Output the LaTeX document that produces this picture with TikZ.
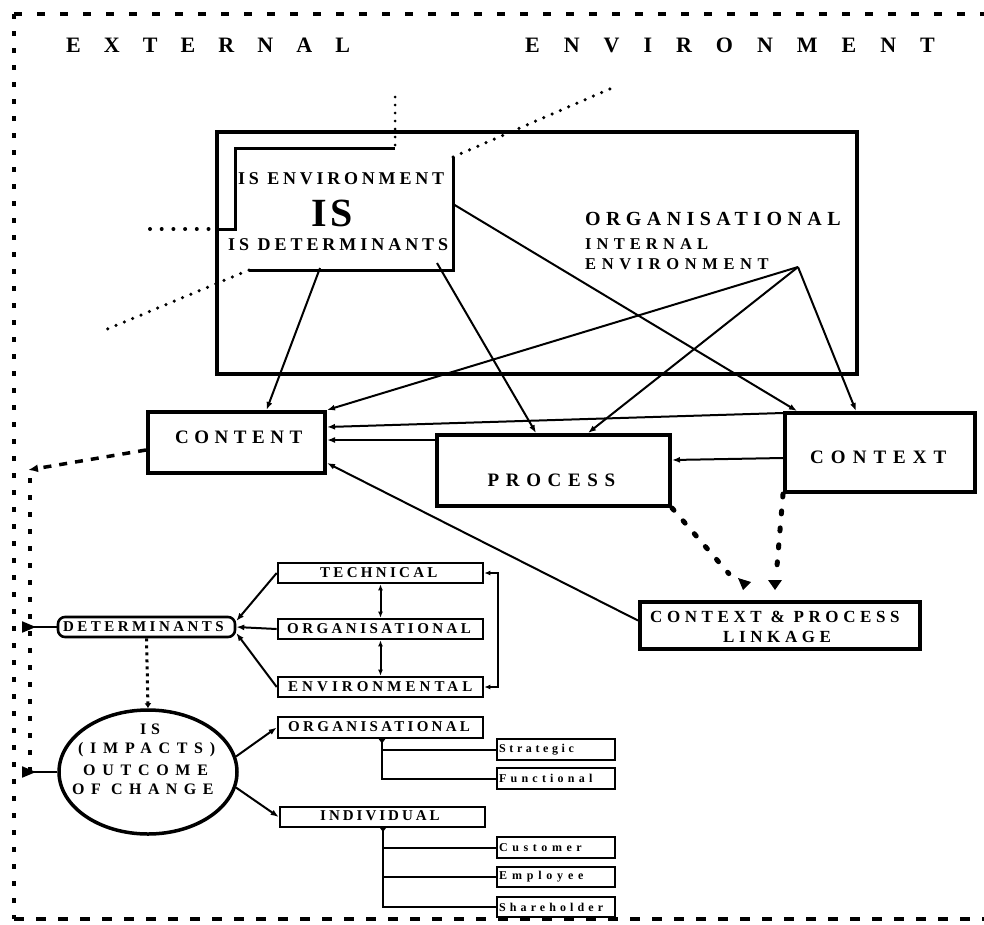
\documentclass[tikz,border=0pt]{standalone}
\usepackage{fontspec}
\setmainfont{Liberation Serif}
\newfontface\dfont{Liberation Serif Bold}
\usetikzlibrary{arrows.meta,shapes.geometric,calc}
% size, letter spacing, text (bold face)
\newcommand\lsp[3]{\fontsize{#1}{#1}\dfont\addfontfeatures{LetterSpace=#2}#3}
\begin{document}
\begin{tikzpicture}[x=1pt,y=-1pt,
  txt/.style={inner sep=0pt},
  bigbox/.style={draw, line width=4pt, inner sep=0pt},
  smallbox/.style={draw, line width=2.6pt, inner sep=0pt, minimum height=20pt},
  conn/.style={line width=2pt},
  arr/.style={conn, -{Latex[length=8pt,width=6pt]}},
  darr/.style={conn, {Latex[length=6pt,width=5pt]}-{Latex[length=6pt,width=5pt]}},
  fine/.style={line width=3.5pt, line cap=round, dash pattern=on 0pt off 9pt},
  bigdots/.style={line width=5pt, line cap=round, dash pattern=on 3pt off 14pt},
  tail/.style={conn, {Triangle[reversed,length=14pt,width=11pt]}-},
  branch/.style={conn, {Triangle[reversed,length=5pt,width=7pt]}-},
]
\useasboundingbox (0,0) rectangle (984,924);

% outer dashed frame of the external environment
\begin{scope}
  \clip (0,0) rectangle (984,924);
  \draw[line width=4pt, dash pattern=on 8pt off 15pt] (14,14) -- (995,14);
  \draw[line width=4pt, dash pattern=on 5pt off 12pt] (14,14) -- (14,919);
  \draw[line width=4pt, dash pattern=on 10pt off 12pt] (14,919) -- (995,919);
\end{scope}
\node[txt, anchor=west] (extA) at (66,45) {\lsp{22}{105}{EXTERNAL}};
\node[txt, anchor=west] (extB) at (525,45) {\lsp{22}{109}{ENVIRONMENT}};

% organisational box with the IS block inside
\node[bigbox, minimum width=640pt, minimum height=242pt] (isbox) at (537,253) {};
\draw[line width=3pt] (217,229) -- (235,229) -- (235,148) -- (395,148);
\draw[line width=3pt] (453,157) -- (453,270) -- (249,270);
\draw[fine, line width=3pt, dash pattern=on 0pt off 8pt] (395,97) -- (395,148);
\draw[fine] (453,157) -- (612,88);
\draw[fine, line width=4pt, dash pattern=on 0pt off 11.7pt] (150,229) -- (217,229);
\draw[fine] (249,270) -- (105,330);
\node[txt, anchor=west] (isenv) at (238,179) {\lsp{18}{21}{IS ENVIRONMENT}};
\node[txt] (isbig) at (332,213) {\lsp{40}{8}{IS}};
\node[txt, anchor=west] (isdet) at (228,245) {\lsp{18}{22}{IS DETERMINANTS}};
\node[txt, anchor=west] (orgA) at (585,219) {\lsp{20}{27}{ORGANISATIONAL}};
\node[txt, anchor=west] (orgB) at (585,244) {\lsp{16.5}{31}{INTERNAL}};
\node[txt, anchor=west] (orgC) at (585,264) {\lsp{16.5}{34}{ENVIRONMENT}};
\coordinate (detL) at (320,268);
\coordinate (detR) at (437,263);
\coordinate (envR) at (453,204);
\coordinate (apex) at (798,267);

% content, process and context boxes
\node[bigbox, minimum width=177pt, minimum height=61pt] (content) at (236.5,442.5) {};
\node[txt, anchor=west] (contentT) at (175,437) {\lsp{19}{29}{CONTENT}};
\node[bigbox, minimum width=233pt, minimum height=71pt] (process) at (553.5,470.5) {};
\node[txt, anchor=west] (processT) at (487.5,480) {\lsp{19}{35}{PROCESS}};
\node[bigbox, minimum width=190pt, minimum height=79pt] (context) at (880,452.5) {};
\node[txt, anchor=west] (contextT) at (810,457) {\lsp{19}{37}{CONTEXT}};
\node[bigbox, minimum width=280pt, minimum height=47pt] (linkage) at (780,625.5) {};
\node[txt, anchor=west] (linkA) at (650,617) {\lsp{17}{27}{CONTEXT \& PROCESS}};
\node[txt, anchor=west] (linkB) at (723,637) {\lsp{17}{27}{LINKAGE}};

% links from the IS block and the organisational environment
\draw[arr] (detL) -- ([xshift=30pt]content.north);
\draw[arr] (apex) -- (content.north east);
\draw[arr] (apex) -- ([xshift=34.5pt]process.north);
\draw[arr] (apex) -- ([xshift=-24pt]context.north);
\draw[arr] (detR) -- ([xshift=-17.5pt]process.north);
\draw[arr] (envR) -- ([xshift=-83pt]context.north);
\draw[arr] ([yshift=-2pt]context.north west) -- ([yshift=-17pt]content.north east);
\draw[arr] ([yshift=-7pt]process.north west) -- ([yshift=-30pt]content.north east);
\draw[arr] ([yshift=5pt]linkage.west) -- ([yshift=12pt]content.south east);
\draw[arr] ([yshift=-5.5pt]context.west) -- ([yshift=10.5pt]process.east);
\coordinate (lk1) at (743,590);
\coordinate (lk2) at (775,590);
\draw[bigdots] (process.south east) -- ($(process.south east)!0.8!(lk1)$);
\draw[bigdots] (context.south west) -- ($(context.south west)!0.8!(lk2)$);
\fill (lk1) -- ++(-5,-12) -- ++(13,4) -- cycle;
\fill (lk2) -- ++(-7,-10) -- ++(14,0) -- cycle;

% feedback column on the left
\coordinate (colTop) at (28,470);
\coordinate (colBot) at (30,777);
\draw[line width=3.5pt, dash pattern=on 8pt off 8pt, -{Latex[length=10pt,width=8pt]}] ([yshift=-7.5pt]content.west) -- (colTop);
\draw[line width=4pt, dash pattern=on 5pt off 12pt] (30,478) -- (colBot);

% determinants
\node[draw, line width=2.6pt, rounded corners=7pt, inner sep=0pt, minimum width=177pt, minimum height=20pt] (det) at (146.5,627) {};
\node[txt, anchor=west] (detT) at (63,627) {\lsp{15}{23}{DETERMINANTS}};
\node[smallbox, minimum width=205pt] (tech) at (380.5,573) {};
\node[txt, anchor=west] (techT) at (320,573) {\lsp{15}{22}{TECHNICAL}};
\node[smallbox, minimum width=205pt] (orgdet) at (380.5,629) {};
\node[txt, anchor=west] (orgdetT) at (287,629) {\lsp{15}{23}{ORGANISATIONAL}};
\node[smallbox, minimum width=205pt] (envdet) at (380.5,687) {};
\node[txt, anchor=west] (envdetT) at (288,687) {\lsp{15}{27}{ENVIRONMENTAL}};
\draw[arr] (tech.west) -- ([yshift=6pt]det.east);
\draw[arr] (orgdet.west) -- (det.east);
\draw[arr] (envdet.west) -- ([yshift=-6pt]det.east);
\draw[darr] (tech.south) -- (orgdet.north);
\draw[darr] (orgdet.south) -- (envdet.north);
\draw[darr] (tech.east) -- ++(14,0) |- (envdet.east);
\coordinate (lft1) at (22,627);
\draw[tail] (lft1) -- (det.west);

% outcome of change
\node[draw, ellipse, line width=3.5pt, inner sep=0pt, minimum width=178pt, minimum height=124pt] (ell) at (148,772) {};
\node[txt] (ellA) at (150,729) {\lsp{16}{30}{IS}};
\node[txt, anchor=west] (ellB) at (78,750) {\lsp{16}{42}{(IMPACTS)}};
\node[txt, anchor=west] (ellC) at (83,770) {\lsp{16}{42}{OUTCOME}};
\node[txt, anchor=west] (ellD) at (72,789) {\lsp{16}{40}{OF CHANGE}};
\draw[line width=3pt, dash pattern=on 3pt off 4pt, -{Latex[length=5pt,width=7pt]}] (det.south) -- (ell.north);
\coordinate (lft2) at (22,772);
\draw[tail] (lft2) -- (ell.west);

% impact levels
\node[smallbox, minimum width=205pt, minimum height=21pt] (orgimp) at (380.5,727.5) {};
\node[txt, anchor=west] (orgimpT) at (288,727) {\lsp{15}{22}{ORGANISATIONAL}};
\node[smallbox, minimum width=205pt] (indiv) at (382.5,817) {};
\node[txt, anchor=west] (indivT) at (320,816) {\lsp{15}{20}{INDIVIDUAL}};
\draw[arr] (ell.10) -- (orgimp.west);
\draw[arr] (ell.-10) -- (indiv.west);

\node[smallbox, minimum width=118pt, minimum height=21pt] (strat) at (556,749.5) {};
\node[txt, anchor=west] (stratT) at (499,749.5) {\lsp{12}{30}{Strategic}};
\node[smallbox, minimum width=118pt, minimum height=21pt] (func) at (556,778.5) {};
\node[txt, anchor=west] (funcT) at (499,778.5) {\lsp{12}{35}{Functional}};
\node[smallbox, minimum width=118pt, minimum height=21pt] (cust) at (556,847.5) {};
\node[txt, anchor=west] (custT) at (499,847.5) {\lsp{12}{38}{Customer}};
\node[smallbox, minimum width=118pt] (empl) at (556,877) {};
\node[txt, anchor=west] (emplT) at (499,877) {\lsp{12}{40}{Employee}};
\node[smallbox, minimum width=118pt] (share) at (556,907) {};
\node[txt, anchor=west] (shareT) at (499,907) {\lsp{12}{34}{Shareholder}};

\coordinate (ot) at (382,738.5);
\draw[branch] (ot) |- (func.west);
\draw[conn] (ot |- strat.west) -- (strat.west);
\coordinate (it) at (383,827);
\draw[branch] (it) |- (share.west);
\draw[conn] (it |- cust.west) -- (cust.west);
\draw[conn] (it |- empl.west) -- (empl.west);
\end{tikzpicture}
\end{document}
